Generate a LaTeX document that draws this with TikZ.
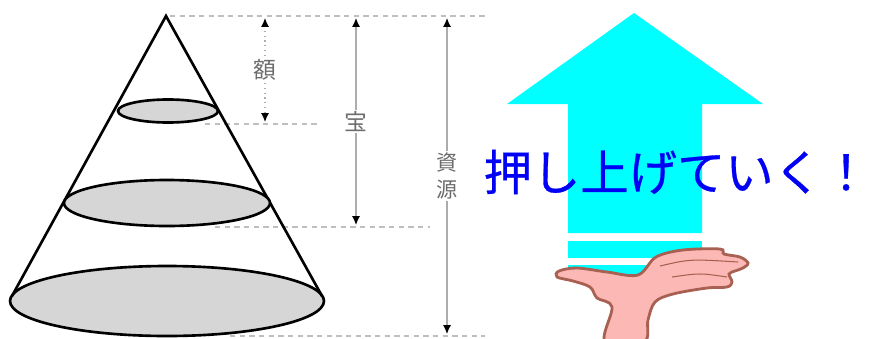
\documentclass[tikz,border=0pt]{standalone}
\usepackage{fontspec}
\newfontfamily\jpfont{Noto Sans CJK JP}
\newfontfamily\jpheavy[FakeBold=0.6]{Noto Sans CJK JP}
\usetikzlibrary{arrows.meta,positioning}
\definecolor{pushcyan}{RGB}{0,255,255}
\definecolor{pushblue}{RGB}{0,0,245}
\definecolor{skin}{RGB}{252,184,180}
\definecolor{skinedge}{RGB}{168,96,82}
\tikzset{
  layer/.style={draw, line width=1.5pt, fill=gray!32},
  guide/.style={gray!50, dash pattern=on 3pt off 2.5pt, line width=0.6pt},
  dimline/.style={gray!65, line width=0.7pt,
                  {Latex[length=5pt,width=4.5pt,color=black]}-{Latex[length=5pt,width=4.5pt,color=black]}},
  dimlabel/.style={font=\jpfont\fontsize{13}{15}\selectfont, text=gray!85!black,
                   fill=white, inner sep=1pt, align=center},
}

\begin{document}
\begin{tikzpicture}[x=0.02cm, y=-0.02cm]
    \useasboundingbox (0,0) rectangle (874,338);
    % levels of the cone
    \coordinate (apex) at (166,16);
    \draw[guide] (170,16) -- (485,16);
    \draw[guide] (205,124) -- (320,124);
    \draw[guide] (215,227) -- (430,227);
    \draw[guide] (230,336) -- (485,336);
    % cone with its three slices
    \draw[layer] (167,301) ellipse [x radius=157, y radius=35];
    \draw[line width=1.5pt] (12,296) -- (apex) -- (322,296);
    \draw[layer] (167,203) ellipse [x radius=103, y radius=23];
    \draw[layer] (168,111) ellipse [x radius=50, y radius=11.5];
    % dimension lines
    \draw[dimline, dotted] (265,18) -- node[dimlabel] (gaku) {額} (265,122);
    \draw[dimline] (356,18) -- node[dimlabel] (takara) {宝} (356,225);
    \draw[dimline] (447,18) -- node[dimlabel, font=\jpfont\fontsize{12}{15}\selectfont] (shigen) {資\\源} (447,334);
    % upward arrow
    \fill[pushcyan] (568,233) -- (568,104) -- (507,104) -- (634,13) -- (763,104)
                    -- (702,104) -- (702,233) -- cycle;
    \fill[pushcyan] (568,241) rectangle (702,258);
    \fill[pushcyan] (568,265) rectangle (702,274);
    \node[font=\jpheavy\fontsize{27.5}{30}\selectfont, text=pushblue, inner sep=0pt] (slogan) at (677,172) {押し上げていく！};
    % hand
    \filldraw[fill=skin, draw=skinedge, line width=1.6pt] plot[smooth cycle, tension=0.55] coordinates {
        (605,342) (612,307) (597,298) (590,287) (573,281) (557,277) (559,271) (577,268)
        (607,272) (638,275) (656,257) (683,250) (720,249) (724,254) (740,257) (748,263)
        (743,268) (735,271) (729,274) (732,282) (727,287) (707,288) (673,294) (655,302)
        (648,320) (644,342)};
    \draw[skinedge, line width=0.6pt] (660,266) .. controls (690,259) .. (738,262);
    \draw[skinedge, line width=0.6pt] (672,277) .. controls (700,273) .. (727,277);
\end{tikzpicture}
\end{document}
